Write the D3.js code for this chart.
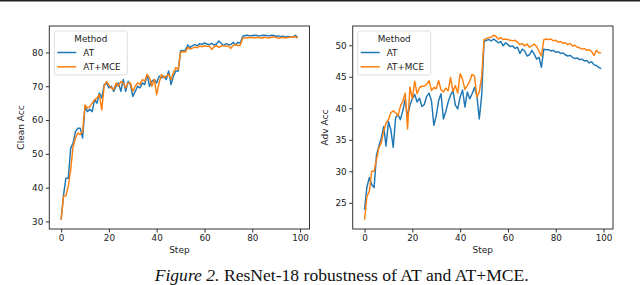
<!DOCTYPE html>
<html><head><meta charset="utf-8">
<script src="https://cdn.jsdelivr.net/npm/d3@7"></script>
<style>html,body{margin:0;padding:0;background:#fff;}svg{display:block;}</style>
</head><body>
<svg id="c" width="640" height="285"></svg>
<script>
const steps = d3.range(0, 100);
const cleanAT = [30.5,37.8,42.8,42.8,51.7,53.2,56.6,57.6,57.6,54.7,64,62.5,63.2,62.5,66,65,68,66.5,70.4,71,69.5,70,68.5,70,71,68.5,72,68.5,71.4,70.5,67,68.5,70,69.5,71,70.5,73.5,70,71.5,72,71,73,72.5,73,72,74.5,70.5,73,74.5,74.5,80.5,80.6,80.7,82.2,81.5,82,82.3,82,82.6,82.4,82.8,82.5,82.3,82.7,82.2,82.5,83.4,82.7,82,82.6,82.4,82.3,83,82.2,83,82.8,84.8,85,85.1,84.9,85,85.1,85,84.9,85,85.1,85,84.9,85.1,85,84.8,84.9,84.7,84.8,84.6,84.7,84.6,84.5,85.1,84.4];
const cleanMCE = [30.5,37.5,37.6,40.4,45.3,52.2,54.7,56.2,55.7,56.7,64.5,63.5,64,65,66,66.5,67.5,63,70,71.4,70.4,69.5,69,71,70,71.4,71,69.5,71,71,68.5,70,71,70.5,72,71.5,73.5,72.5,70,72,67.5,71,73.5,72.5,73,73.5,72,74,75.5,75,80,80.3,80.1,81.5,81,81.3,81.6,81.4,81.9,81.7,82,81.8,81.9,80.9,81.7,82,81.5,81.9,82.1,81.8,82,81.2,82.1,82.3,82,82.2,84.2,84.4,84.3,84.5,84.4,84.3,84.5,84.4,84.2,84.5,84.4,84.3,84.5,84.6,84.4,84.2,84.4,84.5,84.3,84.4,84.6,84.5,84.7,84.2];
const advAT = [23.9,27.5,29,27.9,27.4,32.6,34,35.3,37.1,34,37.9,36.6,33.8,38.5,39,38.2,39.6,41.4,38.7,40.5,41.5,42.2,41,41.6,40.3,40.6,41.9,42.4,41.2,37.3,38.8,41.2,42.3,38.3,39.5,41,42.1,42.8,40.5,39.9,41.8,42.9,40.2,42.6,41.5,42.3,43.3,42,38.3,42,50.6,50.8,50.9,50.7,51,50.7,50.4,50.6,49.9,50.4,50.1,49.8,49.9,49.5,49.7,48.7,49.4,49.1,48.3,48.5,49.2,48.6,47.8,48.1,46.5,49.4,49.3,49.3,49.1,49.2,48.9,49,48.7,48.8,48.5,48.3,48.4,48.1,47.9,48,47.7,47.8,47.5,47.6,47.2,47.4,46.9,46.8,46.5,46.3];
const advMCE = [22.3,26,26.8,30,30,31.9,33.7,34.5,36.4,37.7,38.2,39.3,39.6,39.3,38.8,40.3,41.1,42.4,36.7,43.4,41.5,44.3,42.3,43.3,43.5,43.5,43.8,44.4,42.8,43.3,43.1,44.4,42.9,42.6,43.2,42.8,44.9,42.7,43.6,42.4,45.5,44.6,43,43.6,44.3,45.4,45.1,41.8,42.6,45,50.9,51.1,51.2,51.3,51.6,51.4,51,51.2,50.9,51,50.9,50.8,50.7,50.8,50.5,50.1,50.3,49.9,50.2,49.7,49.9,50.2,49.8,49.1,48.3,50.9,51,50.9,51,50.7,50.8,50.5,50.6,50.3,50.4,50.1,50.3,49.9,50,49.7,49.6,49.4,49.5,49.2,49.3,49,48.4,49.2,48.8,48.8];
const xTicks = [0,20,40,60,80,100];
const cleanTicks = [30,40,50,60,70,80];
const advTicks = [25,30,35,40,45,50];
const seriesNames = ["AT","AT+MCE"];
const colors = ["#1f77b4","#ff7f0e"];

const svg = d3.select("#c");
svg.append("rect").attr("x",0).attr("y",0).attr("width",640).attr("height",1.5).attr("fill","#222");

function panel(opts){
  const {x0,x1,y0,y1,a,b,yTicks,ylabel,ylabelX} = opts;
  const all = a.concat(b);
  const mn = d3.min(all), mx = d3.max(all), pad = (mx-mn)*0.05;
  const x = d3.scaleLinear().domain([0-99*0.05, 99*1.05]).range([x0,x1]);
  const y = d3.scaleLinear().domain([mn-pad, mx+pad]).range([y1,y0]);
  const g = svg.append("g");
  const line = d3.line().x((d,i)=>x(steps[i])).y(d=>y(d));
  [a,b].forEach((s,k)=>{
    g.append("path").datum(s).attr("d",line).attr("fill","none")
      .attr("stroke",colors[k]).attr("stroke-width",1.45).attr("stroke-linejoin","round");
  });
  g.append("rect").attr("x",x0).attr("y",y0).attr("width",x1-x0).attr("height",y1-y0)
    .attr("fill","none").attr("stroke","#333").attr("stroke-width",1);
  const xa = g.append("g").attr("transform",`translate(0,${y1})`)
    .call(d3.axisBottom(x).tickValues(xTicks).tickSize(3.5).tickPadding(2).tickFormat(d3.format("d")));
  const ya = g.append("g").attr("transform",`translate(${x0},0)`)
    .call(d3.axisLeft(y).tickValues(yTicks).tickSize(3.5).tickPadding(2.5).tickFormat(d3.format("d")));
  [xa,ya].forEach(ax=>{
    ax.select(".domain").remove();
    ax.selectAll(".tick line").attr("stroke","#333").attr("stroke-width",1);
    ax.selectAll(".tick text").attr("fill","#1a1a1a").attr("font-family","DejaVu Sans").attr("font-size",8.8);
  });
  g.append("text").attr("x",(x0+x1)/2).attr("y",y1+24).attr("text-anchor","middle")
    .attr("font-family","DejaVu Sans").attr("font-size",9).attr("fill","#1a1a1a").text("Step");
  g.append("text").attr("transform",`translate(${ylabelX},${(y0+y1)/2}) rotate(-90)`).attr("text-anchor","middle")
    .attr("font-family","DejaVu Sans").attr("font-size",9).attr("fill","#1a1a1a").text(ylabel);
  // legend
  const lx = x0+5, ly = y0+5;
  const lg = g.append("g");
  lg.append("rect").attr("x",lx).attr("y",ly).attr("width",73).attr("height",44).attr("rx",2)
    .attr("fill","#fff").attr("fill-opacity",0.8).attr("stroke","#d6d6d6").attr("stroke-width",0.8);
  lg.append("text").attr("x",lx+36.5).attr("y",ly+11).attr("text-anchor","middle")
    .attr("font-family","DejaVu Sans").attr("font-size",8.8).attr("fill","#1a1a1a").text("Method");
  seriesNames.forEach((n,k)=>{
    const yy = ly+21.5+k*14.3;
    lg.append("line").attr("x1",lx+3).attr("x2",lx+22).attr("y1",yy).attr("y2",yy)
      .attr("stroke",colors[k]).attr("stroke-width",1.5);
    lg.append("text").attr("x",lx+29).attr("y",yy+3).attr("font-family","DejaVu Sans")
      .attr("font-size",8.8).attr("fill","#1a1a1a").text(n);
  });
}
panel({x0:49.3,x1:309.5,y0:26,y1:229,a:cleanAT,b:cleanMCE,yTicks:cleanTicks,ylabel:"Clean Acc",ylabelX:24});
panel({x0:352.7,x1:613,y0:26,y1:229,a:advAT,b:advMCE,yTicks:advTicks,ylabel:"Adv Acc",ylabelX:328});

const cap = svg.append("text").attr("x",341.7).attr("y",280.5).attr("text-anchor","middle")
  .attr("font-family","Liberation Serif").attr("font-size",17.6).attr("fill","#111");
cap.append("tspan").attr("font-style","italic").text("Figure 2.");
cap.append("tspan").text(" ResNet-18 robustness of AT and AT+MCE.");
</script>
</body></html>
